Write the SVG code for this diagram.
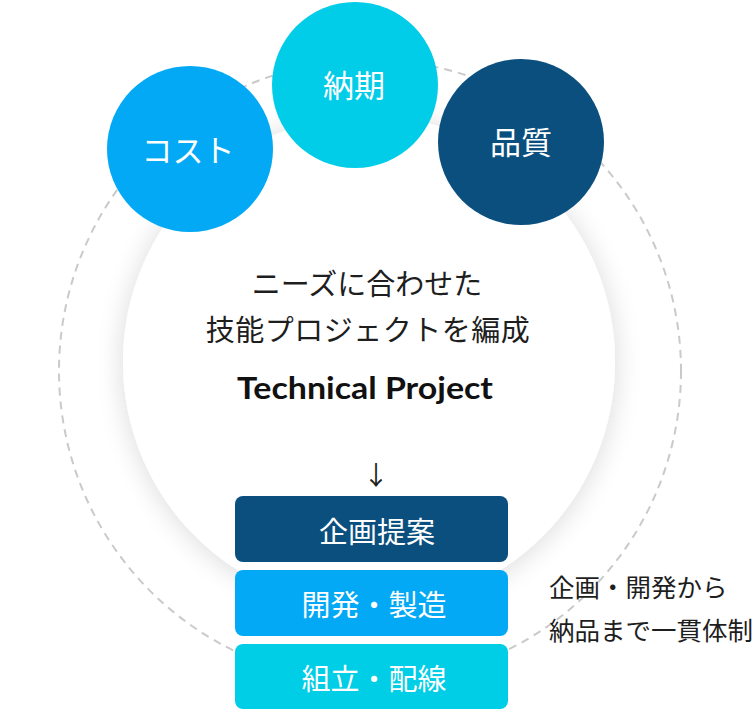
<svg xmlns="http://www.w3.org/2000/svg" width="756" height="710" viewBox="0 0 756 710">
<defs>
<filter id="sh" x="-30%" y="-30%" width="160%" height="160%">
<feGaussianBlur in="SourceAlpha" stdDeviation="14"/>
<feOffset dx="0" dy="2"/>
<feComponentTransfer><feFuncA type="linear" slope="0.15"/></feComponentTransfer>
<feMerge><feMergeNode/><feMergeNode in="SourceGraphic"/></feMerge>
</filter>
</defs>
<style>
.jp{font-family:"Noto Sans CJK JP","Noto Sans",sans-serif;}
.cl{fill:#fff;font-size:31px;text-anchor:middle;dominant-baseline:central;}
.ct{fill:#1e1e1e;font-size:29px;text-anchor:middle;dominant-baseline:central;}
.bx{fill:#fff;font-size:29px;text-anchor:middle;dominant-baseline:central;}
.rt{fill:#1e1e1e;font-size:25.5px;dominant-baseline:central;}
</style>
<rect width="756" height="710" fill="#fff"/>
<g id="ring">
<circle cx="370" cy="371" r="311" fill="none" stroke="#cacaca" stroke-width="2" stroke-dasharray="8 6"/>
</g>
<g id="center">
<circle cx="369" cy="362" r="246" fill="#fff" filter="url(#sh)"/>
<text class="jp ct" x="367" y="282">ニーズに合わせた</text>
<text class="jp ct" x="368" y="328" letter-spacing="0.5">技能プロジェクトを編成</text>
<text x="365" y="387" font-family="Lato,'Noto Sans',sans-serif" font-weight="bold" font-size="31" fill="#111" text-anchor="middle" dominant-baseline="central" textLength="256" lengthAdjust="spacingAndGlyphs">Technical Project</text>
</g>
<g id="connectors">
<text x="376" y="473" class="jp" font-size="26" fill="#1e1e1e" text-anchor="middle" dominant-baseline="central">↓</text>
</g>
<g id="cost">
<circle cx="190" cy="149" r="83" fill="#03A9F4"/>
<text class="jp cl" x="188" y="148">コスト</text>
</g>
<g id="nouki">
<circle cx="355" cy="85" r="83" fill="#02CDE8"/>
<text class="jp cl" x="354" y="83">納期</text>
</g>
<g id="hinshitsu">
<circle cx="521" cy="142" r="83" fill="#0A4F7E"/>
<text class="jp cl" x="521" y="140">品質</text>
</g>
<g id="kikaku">
<rect x="235" y="496" width="273" height="66" rx="8" fill="#0A4F7E"/>
<text class="jp bx" x="377" y="530">企画提案</text>
</g>
<g id="kaihatsu">
<rect x="235" y="570" width="273" height="66" rx="8" fill="#03A9F4"/>
<text class="jp bx" x="374" y="603">開発・製造</text>
</g>
<g id="kumitate">
<rect x="235" y="644" width="273" height="65" rx="8" fill="#00CDE6"/>
<text class="jp bx" x="374" y="677">組立・配線</text>
</g>
<g id="note">
<text class="jp rt" x="549" y="585">企画・開発から</text>
<text class="jp rt" x="549" y="628">納品まで一貫体制</text>
</g>
</svg>
